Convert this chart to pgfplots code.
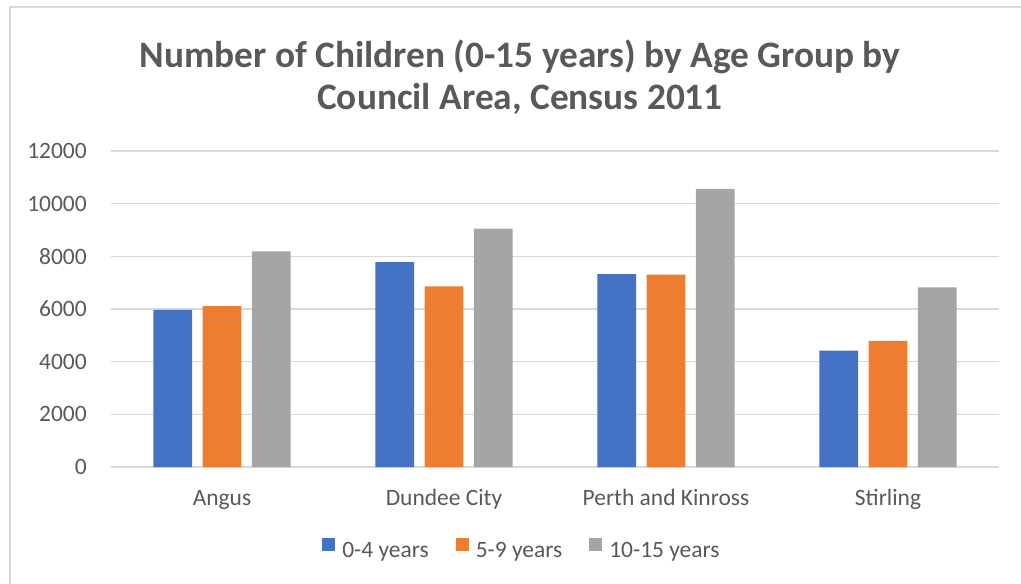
\documentclass[border=0pt]{standalone}
\usepackage{pgfplots}
\pgfplotsset{compat=1.18}
\usepackage{fontspec}
\setmainfont{Carlito}
\definecolor{cblue}{HTML}{4472C4}
\definecolor{corange}{HTML}{ED7D31}
\definecolor{cgray}{HTML}{A5A5A5}
\definecolor{ctext}{HTML}{595959}
\definecolor{cgrid}{HTML}{D9D9D9}
\begin{document}
\begin{tikzpicture}
\path[use as bounding box] (0pt,0pt) rectangle (765.75pt,-438pt);
\draw[cgrid, line width=0.9pt] (7.5pt,-440pt) -- (7.5pt,-5.25pt) -- (770pt,-5.25pt);
\begin{axis}[
  at={(83.25pt,-350.25pt)}, anchor=south west,
  scale only axis, width=666pt, height=237pt,
  ybar, bar width=0.174,
  xmin=-0.5, xmax=3.5, ymin=0, ymax=12000,
  xtick={0,1,2,3},
  xticklabels={Angus, Dundee City, Perth and Kinross, Stirling},
  ytick={0,2000,4000,6000,8000,10000,12000},
  scaled y ticks=false,
  /pgf/number format/assume math mode=true,
  yticklabel={\pgfmathprintnumber[fixed,set thousands separator={}]{\tick}},
  major tick length=0pt,
  axis line style={draw=none},
  ymajorgrids, grid style={cgrid, line width=1.1pt},
  tick label style={font=\fontsize{17.6}{21}\selectfont, text=ctext},
  yticklabel style={anchor=east, inner sep=0pt, xshift=-18pt},
  xticklabel style={anchor=north, inner sep=0pt, yshift=-17pt, text height=12pt},
  title={Number of Children (0-15 years) by Age Group by\\Council Area, Census 2011},
  title style={at={(axis description cs:0.4606,1.209)}, anchor=center, align=center,
    font=\fontsize{28}{31.5}\selectfont\bfseries, text=ctext},
  legend columns=3,
  legend style={at={(axis description cs:0.463,-0.263)}, anchor=center, draw=none,
    font=\fontsize{17.6}{21}\selectfont, text=ctext,
    /tikz/every odd column/.append style={column sep=3.5pt},
    /tikz/every even column/.append style={column sep=18pt}},
  legend image code/.code={\fill[#1] (0pt,-0.5pt) rectangle (9.75pt,9.25pt);},
]
\addplot[fill=cblue, draw=none, bar shift=-0.222] coordinates {(0,5968) (1,7784) (2,7327) (3,4419)};
\addplot[fill=corange, draw=none, bar shift=0] coordinates {(0,6108) (1,6857) (2,7302) (3,4787)};
\addplot[fill=cgray, draw=none, bar shift=0.222] coordinates {(0,8190) (1,9054) (2,10565) (3,6819)};
\legend{0-4 years, 5-9 years, 10-15 years}
\end{axis}
\end{tikzpicture}
\end{document}
